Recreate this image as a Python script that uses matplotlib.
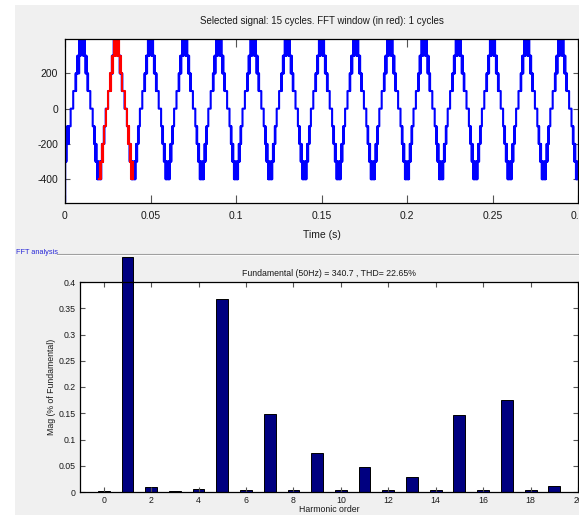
import matplotlib
matplotlib.use("Agg")
import matplotlib.pyplot as plt
from matplotlib.patches import Rectangle
from matplotlib.lines import Line2D
from matplotlib.ticker import FuncFormatter

plt.rcParams['font.family'] = ['Liberation Sans Narrow', 'Liberation Sans', 'DejaVu Sans']
plt.rcParams['axes.unicode_minus'] = False

# one rising half-cycle of the staircase (ms from trough, new level)
rise_t = [0.0, 0.25, 0.4, 0.6, 0.75, 0.95, 1.05, 1.2,
          1.6, 1.75, 1.9, 2.05, 2.2,
          2.7, 2.85, 3.0,
          3.8,
          5.2,
          6.5, 6.65, 6.8,
          7.4, 7.55, 7.7, 7.85, 8.0,
          8.5, 8.65, 8.8, 8.95, 9.1, 9.25, 9.4]
rise_v = [-400, -300, -400, -300, -400, -300, -400, -300,
          -200, -300, -200, -300, -200,
          -100, -200, -100,
          0,
          100,
          200, 100, 200,
          300, 200, 300, 200, 300,
          400, 300, 400, 300, 400, 300, 400]

# first half-cycle starts mid-way (start-up sample at -530)
first_t = [0.0, 0.1, 0.3, 0.5, 0.7, 0.9, 1.2, 1.4, 1.6, 2.0, 2.2, 3.3, 4.8,
           6.2, 6.35, 6.5, 7.2, 7.35, 7.5, 7.65, 8.3, 8.45, 8.6, 8.75, 8.9, 9.05, 9.2]
first_v = [-530, -200, -300, -200, -300, -200, -100, -200, -100, -200, -100, 0, 100,
           200, 100, 200, 300, 200, 300, 200, 400, 300, 400, 300, 400, 300, 400]

n_cycles = 15
period_ms = 20.0
red_cycle = 1

harmonics = list(range(20))
mags = [0.002, 0.448, 0.010, 0.002, 0.006, 0.367, 0.004, 0.148, 0.004, 0.074,
        0.004, 0.047, 0.004, 0.029, 0.004, 0.147, 0.004, 0.176, 0.004, 0.012]


def fall_half(ts, vs):
    # falling half is the mirror image of the rising half
    half = period_ms / 2
    t_out, v_out = [], []
    ends = list(ts[1:]) + [half]
    for i in reversed(range(len(ts))):
        t_out.append(period_ms - ends[i])
        v_out.append(vs[i])
    return t_out, v_out


fall_t, fall_v = fall_half(rise_t, rise_v)

wave_t, wave_v = [], []
red_t, red_v = [], []
for k in range(n_cycles):
    up_t, up_v = (first_t, first_v) if k == 0 else (rise_t, rise_v)
    ts = [(k * period_ms + x) / 1000 for x in up_t + fall_t]
    vs = up_v + fall_v
    wave_t += ts
    wave_v += vs
    if k == red_cycle:
        red_t, red_v = ts + [(k + 1) * period_ms / 1000], vs + [vs[-1]]
wave_t.append(n_cycles * period_ms / 1000)
wave_v.append(wave_v[-1])

W, H = 579, 515
fig = plt.figure(figsize=(W / 100, H / 100), dpi=100, facecolor='white')
fig.patches.append(Rectangle((15 / W, 0), 1, 1 - 5 / H, transform=fig.transFigure,
                             facecolor='#f0f0f0', edgecolor='none', zorder=-10))

txt = '#1a1a1a'

# --- signal ---
ax1 = fig.add_axes([65 / W, 1 - 203 / H, (578 - 65) / W, (203 - 39) / H])
ax1.step(wave_t, wave_v, where='post', color='#0000ff', lw=1.5)
ax1.step(red_t, red_v, where='post', color='#ff0000', lw=1.5)
ax1.set_xlim(0, 0.3)
ax1.set_ylim(-535, 395)
ax1.set_xticks([0, 0.05, 0.1, 0.15, 0.2, 0.25, 0.3])
ax1.set_yticks([-400, -200, 0, 200])
ax1.xaxis.set_major_formatter(FuncFormatter(lambda v, p: '%g' % v))
ax1.set_title('Selected signal: 15 cycles. FFT window (in red): 1 cycles',
              fontsize=7, color=txt, pad=11)
ax1.set_xlabel('Time (s)', fontsize=7.5, color=txt, labelpad=6)
ax1.tick_params(axis='x', direction='in', top=True, length=6, width=0.8,
                color='#555555', labelsize=7.5, labelcolor=txt, pad=6)
ax1.tick_params(axis='y', direction='in', right=True, length=3.6, width=0.8,
                color='#555555', labelsize=7.5, labelcolor=txt, pad=5)

# --- FFT ---
ax2 = fig.add_axes([80 / W, 1 - 492 / H, (578 - 80) / W, (492 - 282) / H])
ax2.bar(harmonics, mags, width=0.5, color='#000080', edgecolor='black', lw=0.7,
        clip_on=False)
ax2.set_xlim(-1, 20)
ax2.set_ylim(0, 0.4)
ax2.set_xticks(range(0, 21, 2))
ax2.set_yticks([0, 0.05, 0.1, 0.15, 0.2, 0.25, 0.3, 0.35, 0.4])
ax2.yaxis.set_major_formatter(FuncFormatter(lambda v, p: '%g' % round(v, 2)))
ax2.set_title('Fundamental (50Hz) = 340.7 , THD= 22.65%', fontsize=6.3, color=txt, pad=4)
ax2.set_xlabel('Harmonic order', fontsize=6.3, color=txt, labelpad=0)
ax2.set_ylabel('Mag (% of Fundamental)', fontsize=6.3, color=txt, labelpad=2)
ax2.tick_params(direction='in', top=True, right=True, length=3.6, width=0.8,
                color='#555555', labelsize=6.3, labelcolor=txt, pad=3)

for ax in (ax1, ax2):
    for s in ax.spines.values():
        s.set_linewidth(0.9)
        s.set_color('black')

# panel label
fig.text(16 / W, 1 - 253 / H, 'FFT analysis', fontsize=5.3, color='#2828d8', va='center')
fig.add_artist(Line2D([57 / W, 1], [1 - 254 / H] * 2, color='#a0a0a0', lw=0.8))
fig.add_artist(Line2D([57 / W, 1], [1 - 255 / H] * 2, color='white', lw=0.6))

fig.savefig('out.png', dpi=100, facecolor=fig.get_facecolor())
